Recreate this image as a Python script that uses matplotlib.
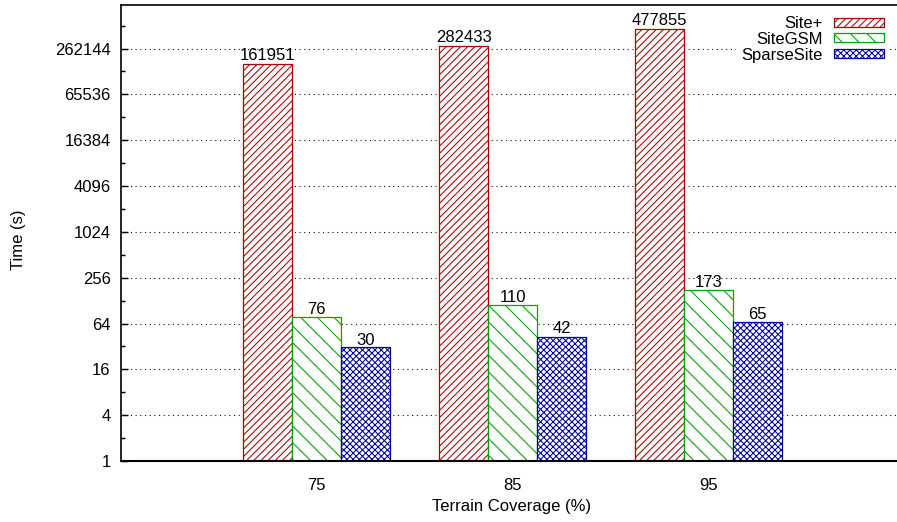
import matplotlib
import matplotlib.pyplot as plt
from matplotlib.patches import Patch
from matplotlib.ticker import FixedLocator, NullFormatter

matplotlib.use("Agg")

# ---------------------------------------------------------------------------
# Data
# ---------------------------------------------------------------------------

coverage = ["75", "85", "95"]
series_names = ["Site+", "SiteGSM", "SparseSite"]
site_plus = [161951, 282433, 477855]
site_gsm = [76, 110, 173]
sparse_site = [30, 42, 65]

y_ticks = [4 ** k for k in range(10)]

COLOURS = ["#a80000", "#00a000", "#0000a0"]
BACKSLASH = chr(92)
HATCHES = ["/" * 7, BACKSLASH * 3, "x" * 8]

# ---------------------------------------------------------------------------
# Figure
# ---------------------------------------------------------------------------

DPI = 150
W, H = 897, 522
plt.rcParams["font.family"] = ["Liberation Sans", "DejaVu Sans"]
plt.rcParams["font.size"] = 8
plt.rcParams["hatch.linewidth"] = 0.5

fig = plt.figure(figsize=(W / DPI, H / DPI), dpi=DPI)
# right edge of the plot frame runs just past the canvas
left_px, right_px, top_px, bottom_px = 121, 904, 5, 461
ax = fig.add_axes([
    left_px / W,
    (H - bottom_px) / H,
    (right_px - left_px) / W,
    (bottom_px - top_px) / H,
])

bar_w = 0.25
groups = range(len(coverage))
all_series = [site_plus, site_gsm, sparse_site]

for i, (name, vals) in enumerate(zip(series_names, all_series)):
    xs = [g + (i - 1) * bar_w for g in groups]
    bars = ax.bar(
        xs, vals, width=bar_w, bottom=1, facecolor="white",
        edgecolor=COLOURS[i], hatch=HATCHES[i], linewidth=0.6, zorder=3,
    )
    for bar, v in zip(bars, vals):
        ax.annotate(
            str(v),
            xy=(bar.get_x() + bar.get_width() / 2, v),
            xytext=(0, 0.5),
            textcoords="offset points",
            ha="center",
            va="bottom",
            zorder=4,
        )

ax.set_yscale("log", base=2)
ax.set_ylim(1, 2 ** 19.9)
ax.set_xlim(-1, 3)

ax.yaxis.set_major_locator(FixedLocator(y_ticks))
ax.yaxis.set_minor_locator(FixedLocator([2 * t for t in y_ticks]))
ax.yaxis.set_minor_formatter(NullFormatter())
ax.set_yticklabels([str(t) for t in y_ticks])
ax.tick_params(axis="y", which="major", direction="in", length=3.2, width=0.7,
               pad=5, right=True)
ax.tick_params(axis="y", which="minor", direction="in", length=2, width=0.7,
               right=True)

ax.set_xticks(list(groups))
ax.set_xticklabels(coverage)
ax.tick_params(axis="x", length=0, pad=8)

ax.grid(True, axis="y", which="major", color="black", linewidth=0.5,
        linestyle=(0, (1, 3.5)), zorder=1)
ax.set_axisbelow(True)

for side in ax.spines.values():
    side.set_linewidth(0.8)
ax.spines["right"].set_visible(False)
ax.spines["bottom"].set_linewidth(1.0)
ax.spines["bottom"].set_zorder(5)

ax.set_ylabel("Time (s)")
ax.set_xlabel("Terrain Coverage (%)")
ax.xaxis.set_label_coords((512 - left_px) / (right_px - left_px), -0.083)
ax.yaxis.set_label_coords(-(left_px - 26) / (right_px - left_px), 0.485)

handles = [
    Patch(facecolor="white", edgecolor=c, hatch=h, linewidth=0.6, label=n)
    for n, c, h in zip(series_names, COLOURS, HATCHES)
]
leg = fig.legend(
    handles=handles,
    loc="upper right",
    bbox_to_anchor=(889 / W, 1 - 11 / H),
    markerfirst=False,
    frameon=True,
    fancybox=False,
    framealpha=1,
    edgecolor="none",
    facecolor="white",
    handlelength=3.0,
    handleheight=0.45,
    handletextpad=0.7,
    labelspacing=0.05,
    borderpad=0.3,
    borderaxespad=0,
)
for t in leg.get_texts():
    t.set_ha("right")

fig.savefig("out.png", dpi=DPI)
plt.close(fig)
